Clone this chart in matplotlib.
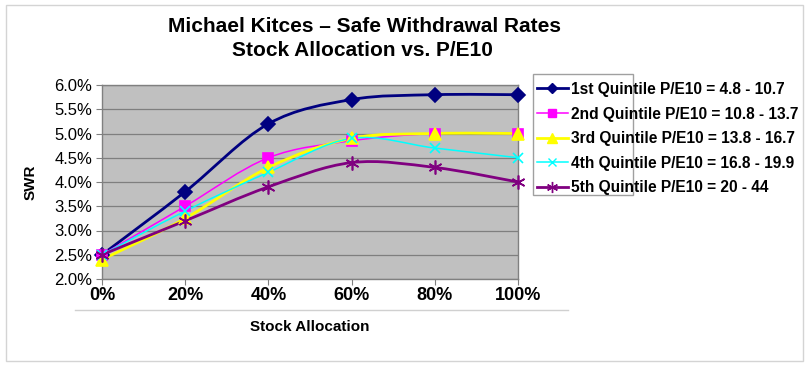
import matplotlib
matplotlib.use("Agg")
import matplotlib.pyplot as plt
from matplotlib.path import Path
from matplotlib.patches import PathPatch, Rectangle
from matplotlib.lines import Line2D
import matplotlib.ticker as mticker

plt.rcParams['font.family'] = ['Liberation Sans', 'DejaVu Sans']

allocation = [0, 20, 40, 60, 80, 100]
x_labels = ['0%', '20%', '40%', '60%', '80%', '100%']

q1 = [2.5, 3.8, 5.2, 5.7, 5.8, 5.8]
q2 = [2.5, 3.5, 4.5, 4.85, 5.0, 5.0]
q3 = [2.4, 3.25, 4.3, 4.9, 5.0, 5.0]
q4 = [2.5, 3.4, 4.2, 4.9, 4.7, 4.5]
q5 = [2.5, 3.2, 3.9, 4.4, 4.3, 4.0]

labels = ['1st Quintile P/E10 = 4.8 - 10.7',
          '2nd Quintile P/E10 = 10.8 - 13.7',
          '3rd Quintile P/E10 = 13.8 - 16.7',
          '4th Quintile P/E10 = 16.8 - 19.9',
          '5th Quintile P/E10 = 20 - 44']

series = [q1, q2, q3, q4, q5]
colors = ['#000080', '#FF00FF', '#FFFF00', '#00FFFF', '#800080']
markers = ['D', 's', '^', 'x', (6, 2, 0)]
msizes = [7, 7, 9, 7, 10]
lwidths = [2.0, 1.1, 2.0, 1.1, 2.0]


def smooth_path(xs, ys):
    pts = list(zip(xs, ys))
    verts = [pts[0]]
    codes = [Path.MOVETO]
    n = len(pts)
    for i in range(n - 1):
        p0 = pts[i - 1] if i > 0 else pts[i]
        p1 = pts[i]
        p2 = pts[i + 1]
        p3 = pts[i + 2] if i + 2 < n else pts[i + 1]
        c1 = (p1[0] + (p2[0] - p0[0]) / 6.0, p1[1] + (p2[1] - p0[1]) / 6.0)
        c2 = (p2[0] - (p3[0] - p1[0]) / 6.0, p2[1] - (p3[1] - p1[1]) / 6.0)
        verts += [c1, c2, p2]
        codes += [Path.CURVE4] * 3
    return Path(verts, codes)


fig = plt.figure(figsize=(8.1, 3.68), dpi=100)
fig.patch.set_facecolor('white')

# outer chart frame
fig.add_artist(Rectangle((6 / 810, 1 - 361 / 368), (803 - 6) / 810, (361 - 5) / 368,
                         transform=fig.transFigure, fill=False,
                         edgecolor='#d4d4d4', linewidth=1.0))
# line beneath tick labels
fig.add_artist(Line2D([75 / 810, 568 / 810], [1 - 310 / 368, 1 - 310 / 368],
                      transform=fig.transFigure, color='#d0d0d0', linewidth=1.0))

ax = fig.add_axes([102 / 810, 1 - 279 / 368, (518 - 102) / 810, (279 - 85) / 368])
ax.set_facecolor('#C0C0C0')
ax.set_xlim(0, 100)
ax.set_ylim(2.0, 6.0)
ax.set_yticks([2.0, 2.5, 3.0, 3.5, 4.0, 4.5, 5.0, 5.5, 6.0])
ax.yaxis.set_major_formatter(mticker.FuncFormatter(lambda v, p: f'{v:.1f}%'))
ax.set_xticks(allocation)
ax.set_xticklabels(x_labels, fontweight='bold', fontsize=13)
ax.tick_params(axis='y', labelsize=12, length=4, color='#808080', pad=3)
ax.tick_params(axis='x', length=4, color='#808080', pad=2)
ax.grid(axis='y', color='#7f7f7f', linewidth=0.9)
ax.set_axisbelow(True)
for s in ax.spines.values():
    s.set_color('#808080')
    s.set_linewidth(1.0)

handles = []
for ys, c, m, ms, lw, lab in zip(series, colors, markers, msizes, lwidths, labels):
    ax.add_patch(PathPatch(smooth_path(allocation, ys), facecolor='none',
                           edgecolor=c, linewidth=lw, zorder=3, clip_on=False))
    ax.plot(allocation, ys, linestyle='none', marker=m, markersize=ms,
            color=c, markeredgecolor=c, markeredgewidth=1.2, zorder=4, clip_on=False)
    handles.append(Line2D([], [], color=c, linewidth=lw, marker=m,
                          markersize=ms * 0.8, markeredgecolor=c, label=lab))

ax.set_xlabel('Stock Allocation', fontweight='bold', fontsize=11, labelpad=11)
ax.set_ylabel('SWR', fontweight='bold', fontsize=11, labelpad=12)

fig.text(364 / 810, 1 - 27 / 368, 'Michael Kitces \u2013 Safe Withdrawal Rates',
         ha='center', va='center', fontweight='bold', fontsize=15)
fig.text(362 / 810, 1 - 50 / 368, 'Stock Allocation vs. P/E10',
         ha='center', va='center', fontweight='bold', fontsize=15)

# legend box (text overflows it as in the original)
fig.add_artist(Rectangle((533 / 810, 1 - 195 / 368), 100 / 810, 121 / 368,
                         transform=fig.transFigure, facecolor='white',
                         edgecolor='#a0a0a0', linewidth=1.0, zorder=1))
leg = fig.legend(handles=handles, loc='upper left',
                 bbox_to_anchor=(533 / 810, 1 - 78 / 368), frameon=False,
                 prop={'weight': 'bold', 'size': 11.2}, handlelength=2.0,
                 handletextpad=0.2, labelspacing=0.62, borderaxespad=0,
                 borderpad=0.25)
leg.set_zorder(5)

fig.savefig('out.png', dpi=100)
